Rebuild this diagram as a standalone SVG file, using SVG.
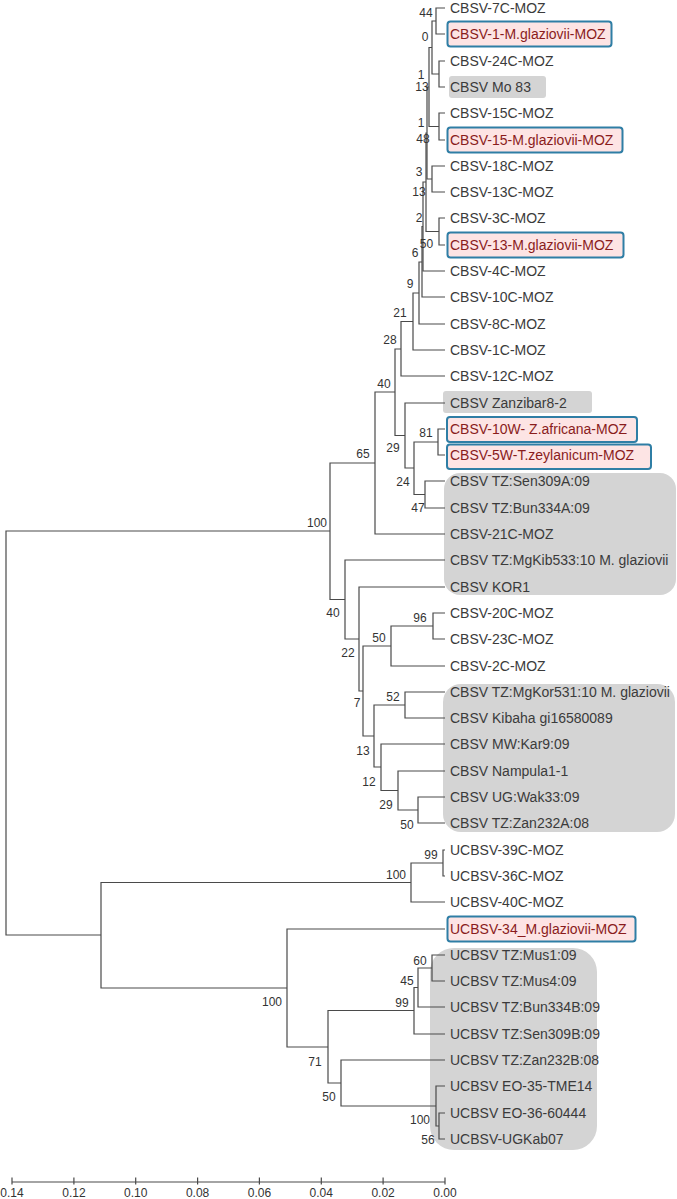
<svg xmlns="http://www.w3.org/2000/svg" width="677" height="1199" viewBox="0 0 677 1199">
<style>
.br{fill:none;stroke:#4a4a4a;stroke-width:1.2}
.lf{font-family:"Liberation Sans",Arial,sans-serif;font-size:14px;fill:#3b3b3b}
.hl{fill:#8a1c1c}
.bs{font-family:"Liberation Sans Narrow","Liberation Sans",Arial,sans-serif;font-size:12px;fill:#333;text-anchor:middle}
.pk{fill:#fde4e4;stroke:#2f7ea5;stroke-width:2}
.gy{fill:#d4d4d4}
.ax{fill:none;stroke:#4a4a4a;stroke-width:1.2}
</style>
<rect width="677" height="1199" fill="#fff"/>
<g id="shading">
<rect class="gy" x="449" y="76" width="97" height="22" rx="3"/>
<rect class="gy" x="443" y="391" width="149" height="22" rx="3"/>
<rect class="gy" x="444" y="473" width="232" height="122" rx="16"/>
<rect class="gy" x="443" y="684" width="232" height="148" rx="18"/>
<rect class="gy" x="430" y="948" width="167" height="202" rx="24"/>
</g>
<g id="connectors">
<path class="br" d="M445 8H436V34H445"/>
<path class="br" d="M445 61H439V87H445"/>
<path class="br" d="M436 21H432V74H439"/>
<path class="br" d="M445 113H439V140H445"/>
<path class="br" d="M432 47.5H429V126.5H439"/>
<path class="br" d="M445 166H432V192H445"/>
<path class="br" d="M429 87H427V179H432"/>
<path class="br" d="M445 218H439V245H445"/>
<path class="br" d="M427 133H426V231.5H439"/>
<path class="br" d="M426 182H423V271H445"/>
<path class="br" d="M423 226.5H422V297H445"/>
<path class="br" d="M422 262H419V324H445"/>
<path class="br" d="M419 293H413V350H445"/>
<path class="br" d="M413 321.5H401V376H445"/>
<path class="br" d="M445 429H438V455H445"/>
<path class="br" d="M445 481H425V508H445"/>
<path class="br" d="M438 442H414V494.5H425"/>
<path class="br" d="M445 403H405V468H414"/>
<path class="br" d="M401 349H395V435.5H405"/>
<path class="br" d="M395 392H375V534H445"/>
<path class="br" d="M445 613H433V639H445"/>
<path class="br" d="M433 626H391V666H445"/>
<path class="br" d="M445 692H405V718H445"/>
<path class="br" d="M445 797H418V823H445"/>
<path class="br" d="M445 771H398V810H418"/>
<path class="br" d="M445 744H381V790.5H398"/>
<path class="br" d="M405 705H374V767H381"/>
<path class="br" d="M391 646H363V736H374"/>
<path class="br" d="M445 587H359V691H363"/>
<path class="br" d="M445 560H345V639H359"/>
<path class="br" d="M375 463H330V599.5H345"/>
<path class="br" d="M445 850H443V876H445"/>
<path class="br" d="M443 863H411V902H445"/>
<path class="br" d="M445 955H432V981H445"/>
<path class="br" d="M432 968H418V1007H445"/>
<path class="br" d="M418 987.5H414V1034H445"/>
<path class="br" d="M445 1113H439V1139H445"/>
<path class="br" d="M445 1086H436V1126H439"/>
<path class="br" d="M445 1060H341V1106H436"/>
<path class="br" d="M414 1010.5H328V1083H341"/>
<path class="br" d="M445 929H287V1047H328"/>
<path class="br" d="M411 882.5H101V988H287"/>
<path class="br" d="M330 531H6V935H101"/>
</g>
<g id="leaf1"><text class="lf" x="450" y="13">CBSV-7C-MOZ</text></g>
<g id="leaf2"><rect class="pk" x="447.5" y="21.5" width="164" height="25" rx="3"/><text class="lf hl" x="450" y="39">CBSV-1-M.glaziovii-MOZ</text></g>
<g id="leaf3"><text class="lf" x="450" y="66">CBSV-24C-MOZ</text></g>
<g id="leaf4"><text class="lf" x="450" y="92">CBSV Mo 83</text></g>
<g id="leaf5"><text class="lf" x="450" y="118">CBSV-15C-MOZ</text></g>
<g id="leaf6"><rect class="pk" x="447.5" y="127.5" width="175" height="25" rx="3"/><text class="lf hl" x="450" y="145">CBSV-15-M.glaziovii-MOZ</text></g>
<g id="leaf7"><text class="lf" x="450" y="171">CBSV-18C-MOZ</text></g>
<g id="leaf8"><text class="lf" x="450" y="197">CBSV-13C-MOZ</text></g>
<g id="leaf9"><text class="lf" x="450" y="223">CBSV-3C-MOZ</text></g>
<g id="leaf10"><rect class="pk" x="447.5" y="232.5" width="176" height="25" rx="3"/><text class="lf hl" x="450" y="250">CBSV-13-M.glaziovii-MOZ</text></g>
<g id="leaf11"><text class="lf" x="450" y="276">CBSV-4C-MOZ</text></g>
<g id="leaf12"><text class="lf" x="450" y="302">CBSV-10C-MOZ</text></g>
<g id="leaf13"><text class="lf" x="450" y="329">CBSV-8C-MOZ</text></g>
<g id="leaf14"><text class="lf" x="450" y="355">CBSV-1C-MOZ</text></g>
<g id="leaf15"><text class="lf" x="450" y="381">CBSV-12C-MOZ</text></g>
<g id="leaf16"><text class="lf" x="450" y="408">CBSV Zanzibar8-2</text></g>
<g id="leaf17"><rect class="pk" x="447" y="417" width="190" height="25" rx="3"/><text class="lf hl" x="450" y="434">CBSV-10W- Z.africana-MOZ</text></g>
<g id="leaf18"><rect class="pk" x="447" y="444.5" width="204" height="24.5" rx="3"/><text class="lf hl" x="450" y="460">CBSV-5W-T.zeylanicum-MOZ</text></g>
<g id="leaf19"><text class="lf" x="450" y="486">CBSV TZ:Sen309A:09</text></g>
<g id="leaf20"><text class="lf" x="450" y="513">CBSV TZ:Bun334A:09</text></g>
<g id="leaf21"><text class="lf" x="450" y="539">CBSV-21C-MOZ</text></g>
<g id="leaf22"><text class="lf" x="450" y="565">CBSV TZ:MgKib533:10 M. glaziovii</text></g>
<g id="leaf23"><text class="lf" x="450" y="592">CBSV KOR1</text></g>
<g id="leaf24"><text class="lf" x="450" y="618">CBSV-20C-MOZ</text></g>
<g id="leaf25"><text class="lf" x="450" y="644">CBSV-23C-MOZ</text></g>
<g id="leaf26"><text class="lf" x="450" y="671">CBSV-2C-MOZ</text></g>
<g id="leaf27"><text class="lf" x="450" y="697">CBSV TZ:MgKor531:10 M. glaziovii</text></g>
<g id="leaf28"><text class="lf" x="450" y="723">CBSV Kibaha gi16580089</text></g>
<g id="leaf29"><text class="lf" x="450" y="749">CBSV MW:Kar9:09</text></g>
<g id="leaf30"><text class="lf" x="450" y="776">CBSV Nampula1-1</text></g>
<g id="leaf31"><text class="lf" x="450" y="802">CBSV UG:Wak33:09</text></g>
<g id="leaf32"><text class="lf" x="450" y="828">CBSV TZ:Zan232A:08</text></g>
<g id="leaf33"><text class="lf" x="450" y="855">UCBSV-39C-MOZ</text></g>
<g id="leaf34"><text class="lf" x="450" y="881">UCBSV-36C-MOZ</text></g>
<g id="leaf35"><text class="lf" x="450" y="907">UCBSV-40C-MOZ</text></g>
<g id="leaf36"><rect class="pk" x="447.5" y="916.5" width="188" height="25" rx="3"/><text class="lf hl" x="450" y="934">UCBSV-34_M.glaziovii-MOZ</text></g>
<g id="leaf37"><text class="lf" x="450" y="960">UCBSV TZ:Mus1:09</text></g>
<g id="leaf38"><text class="lf" x="450" y="986">UCBSV TZ:Mus4:09</text></g>
<g id="leaf39"><text class="lf" x="450" y="1012">UCBSV TZ:Bun334B:09</text></g>
<g id="leaf40"><text class="lf" x="450" y="1039">UCBSV TZ:Sen309B:09</text></g>
<g id="leaf41"><text class="lf" x="450" y="1065">UCBSV TZ:Zan232B:08</text></g>
<g id="leaf42"><text class="lf" x="450" y="1091">UCBSV EO-35-TME14</text></g>
<g id="leaf43"><text class="lf" x="450" y="1118">UCBSV EO-36-60444</text></g>
<g id="leaf44"><text class="lf" x="450" y="1144">UCBSV-UGKab07</text></g>
<g id="bootstrap">
<text class="bs" x="426" y="17">44</text>
<text class="bs" x="425" y="41">0</text>
<text class="bs" x="421" y="79">1</text>
<text class="bs" x="422" y="91">13</text>
<text class="bs" x="421" y="127">1</text>
<text class="bs" x="423" y="143">48</text>
<text class="bs" x="419" y="176">3</text>
<text class="bs" x="419" y="196">13</text>
<text class="bs" x="419" y="222">2</text>
<text class="bs" x="426.5" y="248">50</text>
<text class="bs" x="415" y="257">6</text>
<text class="bs" x="410" y="288">9</text>
<text class="bs" x="400" y="317">21</text>
<text class="bs" x="390" y="344">28</text>
<text class="bs" x="384" y="388">40</text>
<text class="bs" x="426" y="437">81</text>
<text class="bs" x="393" y="452">29</text>
<text class="bs" x="363" y="458">65</text>
<text class="bs" x="403" y="486">24</text>
<text class="bs" x="418" y="512">47</text>
<text class="bs" x="317" y="527">100</text>
<text class="bs" x="333" y="617">40</text>
<text class="bs" x="420" y="622">96</text>
<text class="bs" x="379" y="642">50</text>
<text class="bs" x="348" y="657">22</text>
<text class="bs" x="393" y="701">52</text>
<text class="bs" x="357" y="707">7</text>
<text class="bs" x="363" y="755">13</text>
<text class="bs" x="369" y="786">12</text>
<text class="bs" x="386" y="809">29</text>
<text class="bs" x="407" y="829">50</text>
<text class="bs" x="431" y="859">99</text>
<text class="bs" x="396" y="879">100</text>
<text class="bs" x="272" y="1006">100</text>
<text class="bs" x="420" y="965">60</text>
<text class="bs" x="407" y="985">45</text>
<text class="bs" x="402" y="1007">99</text>
<text class="bs" x="315" y="1066">71</text>
<text class="bs" x="329" y="1101">50</text>
<text class="bs" x="420" y="1124">100</text>
<text class="bs" x="428" y="1144">56</text>
</g>
<g id="axis">
<path class="ax" d="M12 1182H445M12 1177.5V1184.5M73.9 1177.5V1184.5M135.7 1177.5V1184.5M197.6 1177.5V1184.5M259.4 1177.5V1184.5M321.3 1177.5V1184.5M383.1 1177.5V1184.5M445 1177.5V1184.5"/>
<text class="bs" x="12" y="1197">0.14</text>
<text class="bs" x="73.9" y="1197">0.12</text>
<text class="bs" x="135.7" y="1197">0.10</text>
<text class="bs" x="197.6" y="1197">0.08</text>
<text class="bs" x="259.4" y="1197">0.06</text>
<text class="bs" x="321.3" y="1197">0.04</text>
<text class="bs" x="383.1" y="1197">0.02</text>
<text class="bs" x="445" y="1197">0.00</text>
</g>
</svg>
